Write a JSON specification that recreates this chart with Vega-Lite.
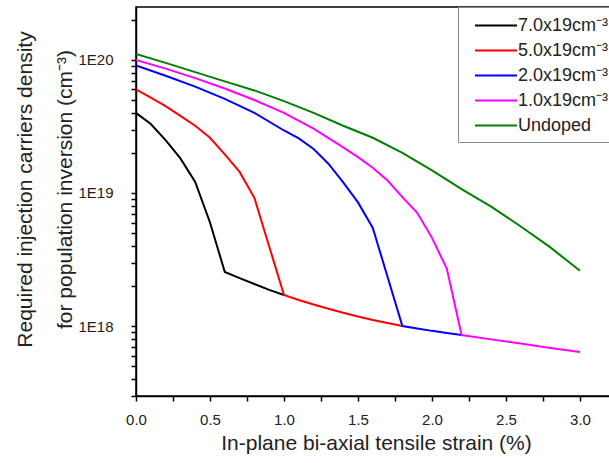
{
  "$schema": "https://vega.github.io/schema/vega-lite/v6.json",
  "width": 479,
  "height": 389,
  "autosize": {"type": "none"},
  "padding": {"left": 136, "top": 7, "right": -6, "bottom": 67},
  "background": "white",
  "config": {
    "view": {"stroke": "black", "strokeWidth": 1.5},
    "font": "Liberation Sans"
  },
  "data": {
    "values": [
      {"series": "7.0x19cm⁻³", "strain": 0.0, "density": 4.0e19},
      {"series": "7.0x19cm⁻³", "strain": 0.1, "density": 3.3e19},
      {"series": "7.0x19cm⁻³", "strain": 0.2, "density": 2.5e19},
      {"series": "7.0x19cm⁻³", "strain": 0.3, "density": 1.82e19},
      {"series": "7.0x19cm⁻³", "strain": 0.4, "density": 1.21e19},
      {"series": "7.0x19cm⁻³", "strain": 0.5, "density": 6.0e18},
      {"series": "7.0x19cm⁻³", "strain": 0.6, "density": 2.55e18},
      {"series": "7.0x19cm⁻³", "strain": 0.7, "density": 2.29e18},
      {"series": "7.0x19cm⁻³", "strain": 0.8, "density": 2.07e18},
      {"series": "7.0x19cm⁻³", "strain": 0.9, "density": 1.87e18},
      {"series": "7.0x19cm⁻³", "strain": 1.0, "density": 1.71e18},

      {"series": "5.0x19cm⁻³", "strain": 0.0, "density": 6.0e19},
      {"series": "5.0x19cm⁻³", "strain": 0.1, "density": 5.2e19},
      {"series": "5.0x19cm⁻³", "strain": 0.2, "density": 4.5e19},
      {"series": "5.0x19cm⁻³", "strain": 0.3, "density": 3.8e19},
      {"series": "5.0x19cm⁻³", "strain": 0.4, "density": 3.2e19},
      {"series": "5.0x19cm⁻³", "strain": 0.5, "density": 2.6e19},
      {"series": "5.0x19cm⁻³", "strain": 0.6, "density": 1.95e19},
      {"series": "5.0x19cm⁻³", "strain": 0.7, "density": 1.44e19},
      {"series": "5.0x19cm⁻³", "strain": 0.8, "density": 9.2e18},
      {"series": "5.0x19cm⁻³", "strain": 0.9, "density": 3.96e18},
      {"series": "5.0x19cm⁻³", "strain": 1.0, "density": 1.71e18},
      {"series": "5.0x19cm⁻³", "strain": 1.1, "density": 1.57e18},
      {"series": "5.0x19cm⁻³", "strain": 1.2, "density": 1.45e18},
      {"series": "5.0x19cm⁻³", "strain": 1.3, "density": 1.35e18},
      {"series": "5.0x19cm⁻³", "strain": 1.4, "density": 1.26e18},
      {"series": "5.0x19cm⁻³", "strain": 1.5, "density": 1.18e18},
      {"series": "5.0x19cm⁻³", "strain": 1.6, "density": 1.11e18},
      {"series": "5.0x19cm⁻³", "strain": 1.7, "density": 1.054e18},
      {"series": "5.0x19cm⁻³", "strain": 1.8, "density": 1.0e18},

      {"series": "2.0x19cm⁻³", "strain": 0.0, "density": 9.1e19},
      {"series": "2.0x19cm⁻³", "strain": 0.2, "density": 7.6e19},
      {"series": "2.0x19cm⁻³", "strain": 0.4, "density": 6.3e19},
      {"series": "2.0x19cm⁻³", "strain": 0.6, "density": 5.1e19},
      {"series": "2.0x19cm⁻³", "strain": 0.8, "density": 4.0e19},
      {"series": "2.0x19cm⁻³", "strain": 1.0, "density": 2.95e19},
      {"series": "2.0x19cm⁻³", "strain": 1.1, "density": 2.57e19},
      {"series": "2.0x19cm⁻³", "strain": 1.2, "density": 2.14e19},
      {"series": "2.0x19cm⁻³", "strain": 1.3, "density": 1.66e19},
      {"series": "2.0x19cm⁻³", "strain": 1.4, "density": 1.2e19},
      {"series": "2.0x19cm⁻³", "strain": 1.5, "density": 8.5e18},
      {"series": "2.0x19cm⁻³", "strain": 1.6, "density": 5.46e18},
      {"series": "2.0x19cm⁻³", "strain": 1.7, "density": 2.34e18},
      {"series": "2.0x19cm⁻³", "strain": 1.8, "density": 1.0e18},
      {"series": "2.0x19cm⁻³", "strain": 1.9, "density": 9.6e17},
      {"series": "2.0x19cm⁻³", "strain": 2.0, "density": 9.2e17},
      {"series": "2.0x19cm⁻³", "strain": 2.1, "density": 8.87e17},
      {"series": "2.0x19cm⁻³", "strain": 2.2, "density": 8.55e17},

      {"series": "1.0x19cm⁻³", "strain": 0.0, "density": 1.0e20},
      {"series": "1.0x19cm⁻³", "strain": 0.2, "density": 8.6e19},
      {"series": "1.0x19cm⁻³", "strain": 0.4, "density": 7.3e19},
      {"series": "1.0x19cm⁻³", "strain": 0.6, "density": 6.1e19},
      {"series": "1.0x19cm⁻³", "strain": 0.8, "density": 5.0e19},
      {"series": "1.0x19cm⁻³", "strain": 1.0, "density": 4.0e19},
      {"series": "1.0x19cm⁻³", "strain": 1.2, "density": 3.05e19},
      {"series": "1.0x19cm⁻³", "strain": 1.4, "density": 2.2e19},
      {"series": "1.0x19cm⁻³", "strain": 1.5, "density": 1.86e19},
      {"series": "1.0x19cm⁻³", "strain": 1.6, "density": 1.55e19},
      {"series": "1.0x19cm⁻³", "strain": 1.7, "density": 1.24e19},
      {"series": "1.0x19cm⁻³", "strain": 1.8, "density": 9.3e18},
      {"series": "1.0x19cm⁻³", "strain": 1.9, "density": 7.1e18},
      {"series": "1.0x19cm⁻³", "strain": 2.0, "density": 4.6e18},
      {"series": "1.0x19cm⁻³", "strain": 2.1, "density": 2.7e18},
      {"series": "1.0x19cm⁻³", "strain": 2.2, "density": 8.55e17},
      {"series": "1.0x19cm⁻³", "strain": 2.4, "density": 7.94e17},
      {"series": "1.0x19cm⁻³", "strain": 2.6, "density": 7.38e17},
      {"series": "1.0x19cm⁻³", "strain": 2.8, "density": 6.85e17},
      {"series": "1.0x19cm⁻³", "strain": 3.0, "density": 6.38e17},

      {"series": "Undoped", "strain": 0.0, "density": 1.11e20},
      {"series": "Undoped", "strain": 0.2, "density": 9.5e19},
      {"series": "Undoped", "strain": 0.4, "density": 8.1e19},
      {"series": "Undoped", "strain": 0.6, "density": 6.9e19},
      {"series": "Undoped", "strain": 0.8, "density": 5.9e19},
      {"series": "Undoped", "strain": 1.0, "density": 4.9e19},
      {"series": "Undoped", "strain": 1.2, "density": 4.0e19},
      {"series": "Undoped", "strain": 1.4, "density": 3.2e19},
      {"series": "Undoped", "strain": 1.6, "density": 2.6e19},
      {"series": "Undoped", "strain": 1.8, "density": 2.0e19},
      {"series": "Undoped", "strain": 2.0, "density": 1.48e19},
      {"series": "Undoped", "strain": 2.2, "density": 1.07e19},
      {"series": "Undoped", "strain": 2.4, "density": 7.9e18},
      {"series": "Undoped", "strain": 2.6, "density": 5.6e18},
      {"series": "Undoped", "strain": 2.8, "density": 3.9e18},
      {"series": "Undoped", "strain": 3.0, "density": 2.6e18}
    ]
  },
  "mark": {"type": "line", "strokeWidth": 2, "clip": true},
  "encoding": {
    "x": {
      "field": "strain",
      "type": "quantitative",
      "scale": {"domain": [0, 3.2365], "nice": false, "zero": false},
      "axis": {
        "title": "In-plane bi-axial tensile strain (%)",
        "titleFont": "Liberation Sans",
        "titleFontSize": 21,
        "titleFontWeight": "normal",
        "titleColor": "#222222",
        "titleX": 240,
        "titleY": 53,
        "titleBaseline": "alphabetic",
        "titleAnchor": null,
        "values": [0, 0.25, 0.5, 0.75, 1, 1.25, 1.5, 1.75, 2, 2.25, 2.5, 2.75, 3],
        "labelExpr": "(round(datum.value*4) % 2 == 0) ? format(datum.value, '.1f') : ''",
        "labelFont": "Liberation Sans",
        "labelFontSize": 15,
        "labelColor": "#222222",
        "labelBaseline": "alphabetic",
        "labelPadding": 23,
        "labelFlush": false,
        "labelOverlap": false,
        "tickSize": 5,
        "tickColor": "black",
        "tickWidth": 1.5,
        "domainColor": "black",
        "domainWidth": 1.5,
        "grid": false
      }
    },
    "y": {
      "field": "density",
      "type": "quantitative",
      "scale": {"type": "log", "domain": [2.98e17, 2.5e20], "nice": false},
      "axis": {
        "title": ["Required injection carriers density", "for population inversion (cm⁻³)"],
        "titleFont": "Liberation Sans",
        "titleFontSize": 21,
        "titleFontWeight": "normal",
        "titleColor": "#222222",
        "titleLineHeight": 40,
        "titleAngle": -90,
        "titleAlign": "center",
        "titleBaseline": "middle",
        "titleX": -111,
        "titleY": 182,
        "titleAnchor": null,
        "values": [3e17, 4e17, 5e17, 6e17, 7e17, 8e17, 9e17, 1e18, 2e18, 3e18, 4e18, 5e18, 6e18, 7e18, 8e18, 9e18, 1e19, 2e19, 3e19, 4e19, 5e19, 6e19, 7e19, 8e19, 9e19, 1e20, 2e20],
        "labelExpr": "abs(log(datum.value)/LN10 - round(log(datum.value)/LN10)) < 0.001 ? '1E' + round(log(datum.value)/LN10) : ''",
        "labelFont": "Liberation Sans",
        "labelFontSize": 15,
        "labelColor": "#222222",
        "labelPadding": 18,
        "labelOverlap": false,
        "labelFlush": false,
        "tickSize": 5,
        "tickColor": "black",
        "tickWidth": 1.5,
        "domainColor": "black",
        "domainWidth": 1.5,
        "grid": false
      }
    },
    "color": {
      "field": "series",
      "type": "nominal",
      "sort": null,
      "scale": {
        "domain": ["7.0x19cm⁻³", "5.0x19cm⁻³", "2.0x19cm⁻³", "1.0x19cm⁻³", "Undoped"],
        "range": ["#000000", "#ff0000", "#0000ff", "#ff00ff", "#008000"]
      },
      "legend": {
        "title": null,
        "orient": "none",
        "legendX": 322,
        "legendY": 0,
        "strokeColor": "#888888",
        "fillColor": "white",
        "padding": 7,
        "rowPadding": 4,
        "symbolType": "M-2,0H2",
        "symbolSize": 441,
        "symbolOffset": 19.5,
        "symbolStrokeWidth": 2,
        "labelFont": "Liberation Sans",
        "labelFontSize": 18,
        "labelColor": "#222222",
        "labelOffset": 10.5,
        "labelLimit": 0
      }
    }
  }
}
